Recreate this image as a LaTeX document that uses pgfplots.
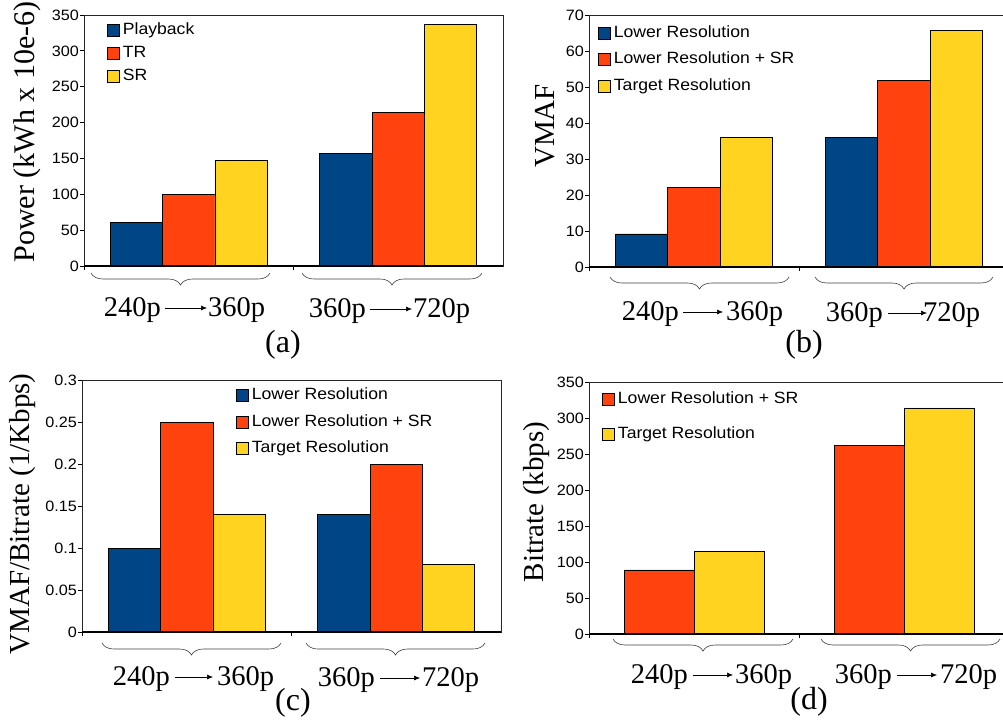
\documentclass[border=0pt]{standalone}
\usepackage{fontspec}
\setmainfont{Liberation Serif}
\newfontfamily\lsans[FakeStretch=1.08]{Liberation Sans}
\usepackage{pgfplots}
\pgfplotsset{compat=1.18}
\usetikzlibrary{decorations.pathreplacing,arrows.meta}

\definecolor{cblue}{HTML}{004586}
\definecolor{cred}{HTML}{FF420E}
\definecolor{cyel}{HTML}{FFD320}

\pgfplotsset{
  myax/.style={
    scale only axis, anchor=north west,
    ybar, bar width=0.25,
    xmin=-0.5, xmax=1.5, ymin=0,
    xtick={-0.5,0.5}, xticklabels={},
    tick pos=left, tick align=outside, major tick length=4pt,
    axis line style={line width=0.8pt, draw=black!85},
    every tick/.style={black, line width=0.8pt},
    yticklabel style={font=\lsans\fontsize{15}{18}\selectfont, inner sep=1pt},
    /pgf/number format/assume math mode=true,
    scaled y ticks=false,
    legend image code/.code={\draw[##1, line width=0.7pt] (0pt,-6pt) rectangle (12pt,6pt);},
    legend style={draw=none, fill=none, inner sep=0pt, anchor=north west,
      font=\lsans\fontsize{16.3}{19}\selectfont, column sep=2pt,
      nodes={inner sep=1pt, text height=12pt, text depth=4pt}},
    legend cell align=left,
    after end axis/.code={\draw[line width=1.4pt] (rel axis cs:0,0) -- (rel axis cs:1,0);},
  },
  b1/.style={draw=black, line width=0.7pt, fill=cblue},
  b2/.style={draw=black, line width=0.7pt, fill=cred},
  b3/.style={draw=black, line width=0.7pt, fill=cyel},
}

\newcommand\trans[8]{%
  \draw[line width=0.6pt,-{Latex[length=6pt,width=5pt]}] (#2pt,-#5pt) -- (#3pt,-#5pt);
  \node[anchor=base east, inner sep=0pt, font=\fontsize{28.5}{30}\selectfont] at (#1pt,-#6pt) {#7};
  \node[anchor=base west, inner sep=0pt, font=\fontsize{28.5}{30}\selectfont] at (#4pt,-#6pt) {#8};
}
\newcommand\brc[3]{%
  \draw[black!75, line width=0.6pt, decorate, decoration={brace, mirror, amplitude=12pt}] (#1pt,-#3pt) -- (#2pt,-#3pt);
}

\begin{document}
\begin{tikzpicture}
\path[use as bounding box] (0pt,0pt) rectangle (1003pt,-720pt);

% ---------- (a)
\begin{axis}[myax, at={(84pt,-15pt)}, width=419pt, height=251pt,
  ymax=350, ytick={0,50,...,350},
  legend style={at={(0.0549,0.974)}, row sep=5pt}]
\addplot[b1, bar shift=-0.25] coordinates {(0,61) (1,157)};
\addplot[b2, bar shift=0] coordinates {(0,100) (1,214)};
\addplot[b3, bar shift=0.25] coordinates {(0,147) (1,337)};
\legend{Playback, TR, SR}
\end{axis}

% ---------- (b)
\begin{axis}[myax, at={(589pt,-15pt)}, width=420pt, height=252pt,
  ymax=70, ytick={0,10,...,70},
  legend style={at={(0.0214,0.964)}, row sep=8.5pt}]
\addplot[b1, bar shift=-0.25] coordinates {(0,9.2) (1,36)};
\addplot[b2, bar shift=0] coordinates {(0,22.2) (1,51.9)};
\addplot[b3, bar shift=0.25] coordinates {(0,35.9) (1,65.6)};
\legend{Lower Resolution, Lower Resolution + SR, Target Resolution}
\end{axis}

% ---------- (c)
\begin{axis}[myax, at={(82pt,-380pt)}, width=419pt, height=252pt,
  ymax=0.3, ytick={0,0.05,0.1,0.15,0.2,0.25,0.3},
  yticklabel style={/pgf/number format/fixed, /pgf/number format/precision=2},
  legend style={at={(0.3675,0.975)}, row sep=8.5pt}]
\addplot[b1, bar shift=-0.25] coordinates {(0,0.10) (1,0.14)};
\addplot[b2, bar shift=0] coordinates {(0,0.25) (1,0.20)};
\addplot[b3, bar shift=0.25] coordinates {(0,0.14) (1,0.08)};
\legend{Lower Resolution, Lower Resolution + SR, Target Resolution}
\end{axis}

% ---------- (d)
\begin{axis}[myax, at={(589pt,-382pt)}, width=420pt, height=252pt,
  bar width=0.3333,
  ymax=350, ytick={0,50,...,350},
  legend style={at={(0.031,0.966)}, row sep=17pt}]
\addplot[b2, bar shift=-0.16667] coordinates {(0,89) (1,262)};
\addplot[b3, bar shift=0.16667] coordinates {(0,115) (1,314)};
\legend{Lower Resolution + SR, Target Resolution}
\end{axis}

% braces
\brc{91}{270}{273}\brc{302}{482}{273}
\brc{610}{789}{277}\brc{815}{993}{277}
\brc{102}{281}{643}\brc{306}{485}{643}
\brc{613}{793}{639}\brc{821}{1000}{639}

% transition labels
\trans{161}{165}{207}{208}{308}{316}{240p}{360p}
\trans{366}{370}{412}{413}{309}{317}{360p}{720p}
\trans{679}{683}{723}{726}{312}{320}{240p}{360p}
\trans{883}{888}{927}{923}{313}{321}{360p}{720p}
\trans{170}{175}{213}{217}{677}{685}{240p}{360p}
\trans{375}{380}{420}{422}{678}{686}{360p}{720p}
\trans{688}{693}{733}{735}{675}{683}{240p}{360p}
\trans{892}{897}{937}{940}{675}{683}{360p}{720p}

% panel labels
\node[inner sep=0pt, font=\fontsize{32}{34}\selectfont] at (283pt,-345pt) {(a)};
\node[inner sep=0pt, font=\fontsize{32}{34}\selectfont] at (804pt,-345pt) {(b)};
\node[inner sep=0pt, font=\fontsize{32}{34}\selectfont] at (293pt,-703pt) {(c)};
\node[inner sep=0pt, font=\fontsize{32}{34}\selectfont] at (809pt,-702pt) {(d)};

% y labels
\node[rotate=90, inner sep=0pt, font=\fontsize{30}{32}\selectfont] at (27pt,-132pt) {Power (kWh x 10e-6)};
\node[rotate=90, inner sep=0pt, font=\fontsize{29}{31}\selectfont] at (545pt,-126pt) {VMAF};
\node[rotate=90, inner sep=0pt, font=\fontsize{29}{31}\selectfont] at (23pt,-514pt) {VMAF/Bitrate (1/Kbps)};
\node[rotate=90, inner sep=0pt, font=\fontsize{29}{31}\selectfont] at (537pt,-502pt) {Bitrate (kbps)};
\end{tikzpicture}
\end{document}
